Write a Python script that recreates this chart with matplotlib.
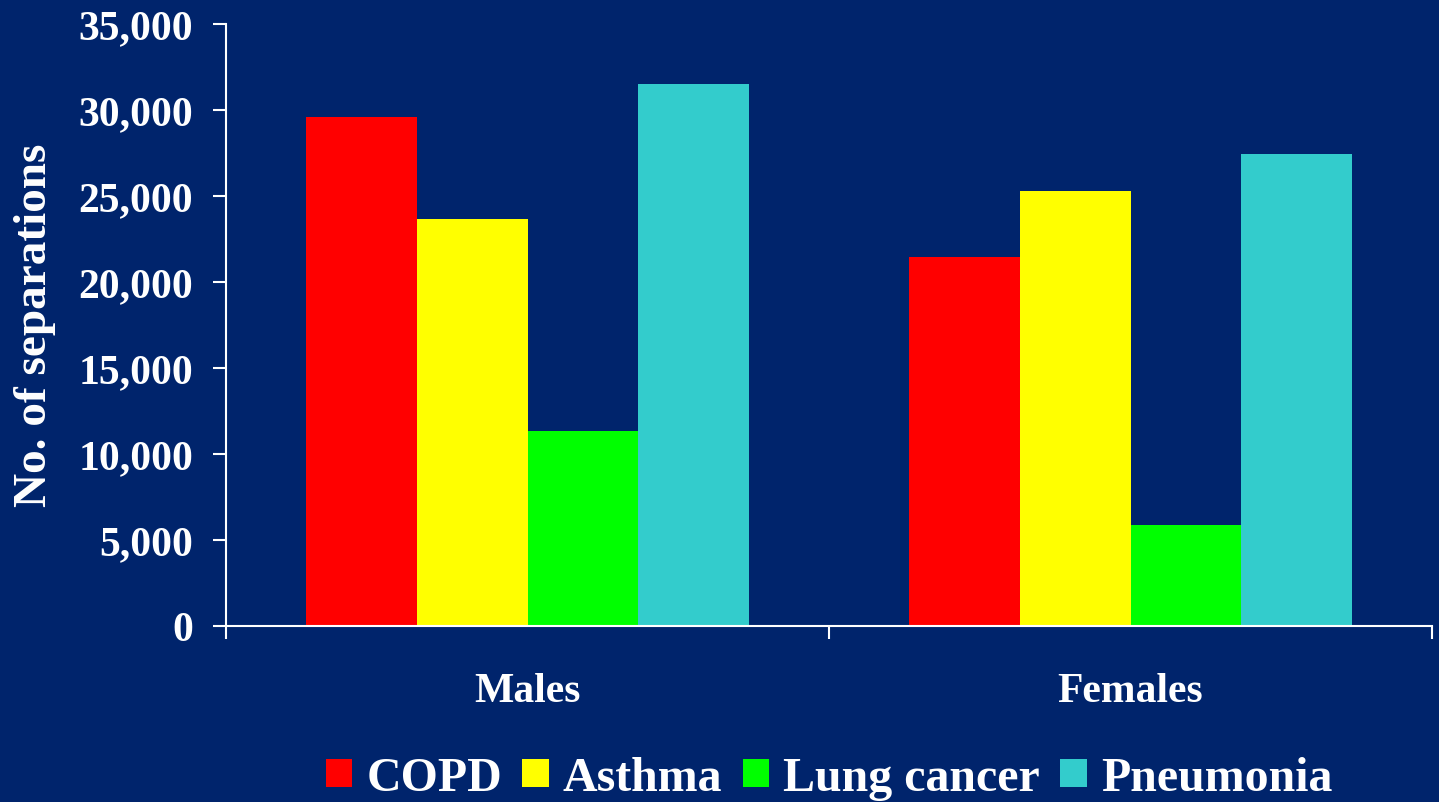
import matplotlib
matplotlib.use("Agg")
import matplotlib.pyplot as plt
import numpy as np
from matplotlib.ticker import FuncFormatter

categories = ["Males", "Females"]
series_names = ["COPD", "Asthma", "Lung cancer", "Pneumonia"]
copd = [29600, 21450]
asthma = [23660, 25290]
lung_cancer = [11340, 5870]
pneumonia = [31500, 27440]
colors = ["#FF0000", "#FFFF00", "#00FF00", "#33CCCC"]
yticks = [0, 5000, 10000, 15000, 20000, 25000, 30000, 35000]

bg = "#00246C"
plt.rcParams['font.family'] = ['Liberation Serif', 'DejaVu Serif']
plt.rcParams['font.weight'] = 'bold'

fig = plt.figure(figsize=(14.39, 8.03), dpi=100, facecolor=bg)
ax = fig.add_axes([226/1439, 1-627/803, (1432-226)/1439, (627-25)/803])
ax.set_facecolor(bg)

x = np.arange(len(categories))
w = 0.1837
data = [copd, asthma, lung_cancer, pneumonia]
for i, (vals, c, name) in enumerate(zip(data, colors, series_names)):
    ax.bar(x + (i - 1.5) * w, vals, width=w, color=c, label=name, linewidth=0, zorder=2)

ax.set_xlim(-0.5, 1.5)
ax.set_ylim(0, 35000)
ax.set_yticks(yticks)
ax.yaxis.set_major_formatter(FuncFormatter(lambda v, p: f"{int(v):,}"))
ax.set_xticks([-0.5, 0.5, 1.5])
ax.set_xticklabels([])
ax.set_xticks(x, minor=True)
ax.set_xticklabels(categories, minor=True)

for s in ["top", "right"]:
    ax.spines[s].set_visible(False)
for s in ["left", "bottom"]:
    ax.spines[s].set_color("white")
    ax.spines[s].set_linewidth(1.5)
    ax.spines[s].set_zorder(3)

ax.tick_params(axis='y', which='major', colors='white', length=9.5, width=1.5,
               pad=14, labelsize=30, direction='out')
ax.tick_params(axis='x', which='major', colors='white', length=9, width=1.5, direction='out')
ax.tick_params(axis='x', which='minor', length=0, pad=33, labelsize=30, labelcolor='white')
for lab in ax.get_yticklabels() + ax.get_xticklabels(minor=True):
    lab.set_fontweight('bold')

fig.text(35/1439, 1-325/803, "No. of separations", rotation=90, ha='center', va='center',
         color='white', fontsize=34, fontweight='bold')

leg = fig.legend(loc='center', bbox_to_anchor=(829/1439, 1-779/803), ncol=4, frameon=False,
                 fontsize=34.5, handlelength=0.56, handleheight=0.54, handletextpad=0.29,
                 columnspacing=0.42, borderaxespad=0, borderpad=0)
for t in leg.get_texts():
    t.set_color('white')
    t.set_fontweight('bold')

fig.savefig("out.png", dpi=100, facecolor=bg)
